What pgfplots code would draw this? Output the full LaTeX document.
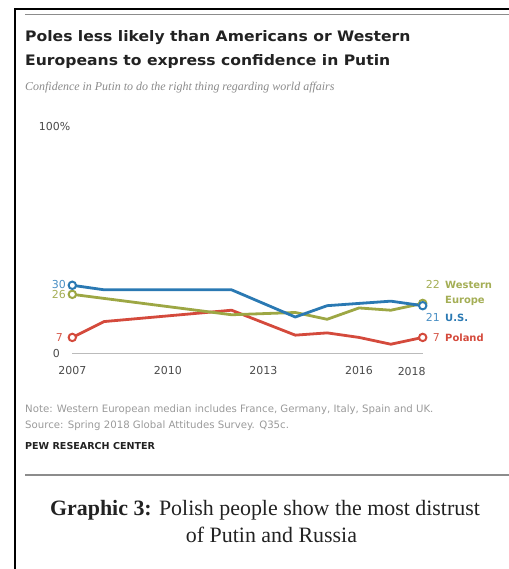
\documentclass[border=0pt]{standalone}
\usepackage{pgfplots}
\pgfplotsset{compat=1.18}
\usepackage{fontspec}
\setmainfont{DejaVu Sans}
\newfontfamily\titlefont[FakeStretch=1.08]{DejaVu Sans}
\newfontfamily\seriffont{Liberation Serif}
\definecolor{usblue}{HTML}{2A79B3}
\definecolor{weg}{HTML}{9DA744}
\definecolor{plred}{HTML}{D44A3C}
\definecolor{usbluet}{HTML}{4A8FC4}
\definecolor{wegt}{HTML}{A4AE55}
\definecolor{plredt}{HTML}{D65A4C}
\definecolor{tickgray}{HTML}{4A4A4A}
\definecolor{basegray}{HTML}{BBBBBB}
\definecolor{rulegray}{HTML}{8C8C8C}
\definecolor{notegray}{HTML}{9A9A9A}
\definecolor{subgray}{HTML}{8A8A8A}
\definecolor{titlecol}{HTML}{222222}
\begin{document}
\begin{tikzpicture}
\begin{scope}[x=1bp,y=1bp]
\path[use as bounding box] (0,0) rectangle (509,569);
% frame
\draw[line width=2.5bp] (15,0) -- (15,559.5);
\draw[line width=2bp] (14,559.5) -- (509,559.5);
\draw[rulegray, line width=1.8bp] (25,554.5) -- (509,554.5);
\draw[rulegray, line width=1.8bp] (25,94) -- (509,94);
% title
\node[anchor=base west, inner sep=0pt, text=titlecol, font=\titlefont\bfseries\fontsize{14.5}{17}\selectfont] at (25,527) {Poles less likely than Americans or Western};
\node[anchor=base west, inner sep=0pt, text=titlecol, font=\titlefont\bfseries\fontsize{14.5}{17}\selectfont] at (25,503.5) {Europeans to express confidence in Putin};
\node[anchor=base west, inner sep=0pt, text=subgray, font=\seriffont\itshape\fontsize{12}{14}\selectfont] at (25,478) {Confidence in Putin to do the right thing regarding world affairs};
\end{scope}
% axis
\begin{axis}[at={(72.3bp,215.7bp)}, anchor=south west, scale only axis,
  width=350.4bp, height=226.7bp,
  xmin=2007, xmax=2018, ymin=0, ymax=100,
  axis line style={draw=none}, major tick length=0pt, clip=false,
  xtick={2007,2010,2013,2016}, xticklabels={2007,2010,2013,2016},
  extra x ticks={2018}, extra x tick labels={2018},
  extra x tick style={xticklabel style={xshift=-11bp, yshift=-1.5bp}},
  xticklabel style={anchor=base, inner sep=0pt, yshift=-21bp, text=tickgray, font=\fontsize{11}{13}\selectfont},
  ytick={0,100}, yticklabels={0,100\rlap{\%}},
  yticklabel style={anchor=base east, inner sep=0pt, xshift=-12.3bp, yshift=-4bp, text=tickgray, font=\fontsize{11}{13}\selectfont},
]
\draw[basegray, line width=1.2bp] (axis cs:2007,0) -- (axis cs:2018,0);
% Poland
\addplot[plred, line width=2.8bp, line join=round] coordinates {(2007,7)(2008,14)(2012,19)(2014,8)(2015,9)(2016,7)(2017,4)(2018,7)};
\addplot[plred, line width=2bp, only marks, mark=*, mark size=3.7bp, mark options={fill=white}] coordinates {(2007,7)(2018,7)};
% Western Europe
\addplot[weg, line width=2.8bp, line join=round] coordinates {(2007,26)(2012,17)(2013,17.5)(2014,18)(2015,15)(2016,20)(2017,19)(2018,22)};
\addplot[weg, line width=2bp, only marks, mark=*, mark size=3.7bp, mark options={fill=white}] coordinates {(2007,26)(2018,22)};
% U.S.
\addplot[usblue, line width=2.8bp, line join=round] coordinates {(2007,30)(2008,28)(2012,28)(2014,16)(2015,21)(2016,22)(2017,23)(2018,21)};
\addplot[usblue, line width=2bp, only marks, mark=*, mark size=3.7bp, mark options={fill=white}] coordinates {(2007,30)(2018,21)};
\end{axis}
\begin{scope}[x=1bp,y=1bp]
% left value labels
\node[anchor=base east, inner sep=0pt, text=usbluet, font=\fontsize{11}{13}\selectfont] at (66,280.5) {30};
\node[anchor=base east, inner sep=0pt, text=wegt, font=\fontsize{11}{13}\selectfont] at (66,270.5) {26};
\node[anchor=base east, inner sep=0pt, text=plredt, font=\fontsize{11}{13}\selectfont] at (63,227) {7};
% right labels
\node[anchor=base east, inner sep=0pt, text=wegt, font=\fontsize{11}{13}\selectfont] at (440,280) {22};
\node[anchor=base west, inner sep=0pt, text=wegt, font=\bfseries\fontsize{10}{12}\selectfont] at (445,280) {Western};
\node[anchor=base west, inner sep=0pt, text=wegt, font=\bfseries\fontsize{10}{12}\selectfont] at (445,265) {Europe};
\node[anchor=base east, inner sep=0pt, text=usbluet, font=\fontsize{11}{13}\selectfont] at (440,247) {21};
\node[anchor=base west, inner sep=0pt, text=usblue, font=\bfseries\fontsize{10}{12}\selectfont] at (445,247) {U.S.};
\node[anchor=base east, inner sep=0pt, text=plredt, font=\fontsize{11}{13}\selectfont] at (440,227) {7};
\node[anchor=base west, inner sep=0pt, text=plred, font=\bfseries\fontsize{10}{12}\selectfont] at (445,227) {Poland};
% notes
\node[anchor=base west, inner sep=0pt, text=notegray, font=\fontsize{10.2}{12}\selectfont] at (25,156.5) {Note: Western European median includes France, Germany, Italy, Spain and UK.};
\node[anchor=base west, inner sep=0pt, text=notegray, font=\fontsize{10.2}{12}\selectfont] at (25,140.5) {Source: Spring 2018 Global Attitudes Survey. Q35c.};
\node[anchor=base west, inner sep=0pt, text=titlecol, font=\bfseries\fontsize{9.6}{11}\selectfont] at (25,119.5) {PEW RESEARCH CENTER};
% caption
\node[anchor=base, inner sep=0pt, text=titlecol, font=\seriffont\fontsize{22}{26}\selectfont] at (265,53) {\textbf{Graphic 3:} Polish people show the most distrust};
\node[anchor=base, inner sep=0pt, text=titlecol, font=\seriffont\fontsize{22}{26}\selectfont] at (271.5,26) {of Putin and Russia};
\end{scope}
\end{tikzpicture}
\end{document}
